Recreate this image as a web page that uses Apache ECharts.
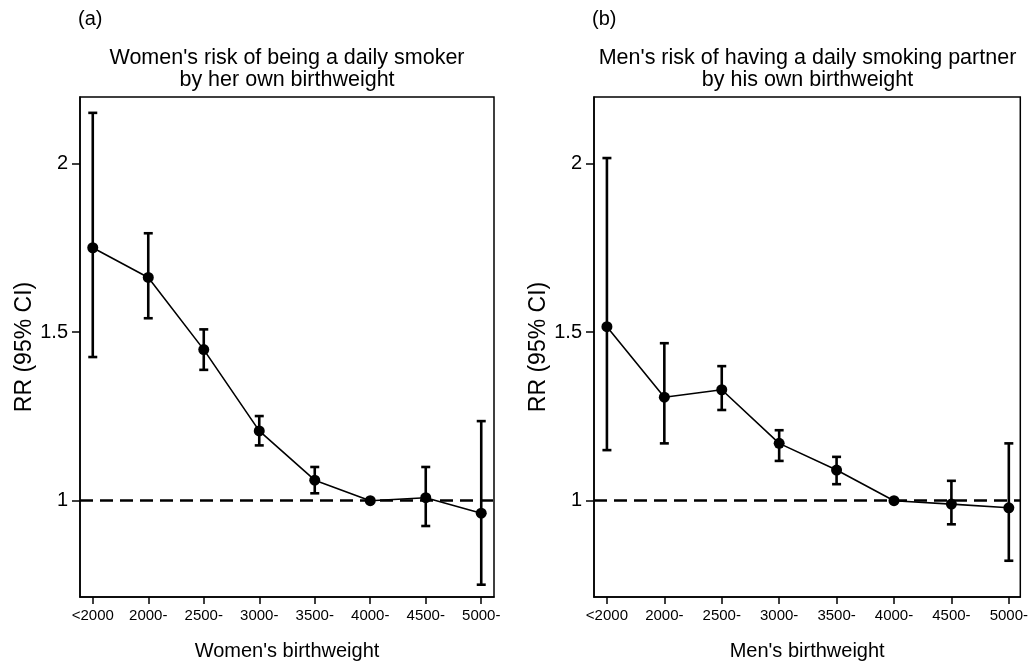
<!DOCTYPE html>
<html>
<head>
<meta charset="utf-8">
<script src="https://cdn.jsdelivr.net/npm/echarts@6/dist/echarts.min.js"></script>
<style>html,body{margin:0;padding:0;background:#fff}#c{width:1031px;height:666px}</style>
</head>
<body>
<div id="c"></div>
<script>
const categories = ['<2000', '2000-', '2500-', '3000-', '3500-', '4000-', '4500-', '5000-'];
const womenRR = [1.750, 1.662, 1.448, 1.207, 1.061, 1.000, 1.009, 0.963];
const womenLo = [1.426, 1.541, 1.388, 1.164, 1.022, null, 0.925, 0.751];
const womenHi = [2.150, 1.793, 1.508, 1.251, 1.100, null, 1.100, 1.236];
const menRR = [1.516, 1.307, 1.329, 1.170, 1.091, 1.000, 0.990, 0.979];
const menLo = [1.150, 1.170, 1.269, 1.118, 1.049, null, 0.930, 0.822];
const menHi = [2.016, 1.467, 1.399, 1.209, 1.130, null, 1.059, 1.170];
const yTicks = [1, 1.5, 2];
const refValue = 1;
const panelLabels = ['(a)', '(b)'];
const panelTitles = ["Women's risk of being a daily smoker\nby her own birthweight",
                     "Men's risk of having a daily smoking partner\nby his own birthweight"];
const xTitles = ["Women's birthweight", "Men's birthweight"];
const yTitle = 'RR (95% CI)';

const FONT = '"Liberation Sans", Arial, sans-serif';
const catIdx = categories.map((c, i) => i);

function pts(rr) { return rr.map((v, i) => [i, v]); }
function bars(lo, hi) {
  const out = [];
  lo.forEach((l, i) => { if (l != null && hi[i] != null) out.push([i, l, hi[i]]); });
  return out;
}

function xAxisCfg(idx, min, max) {
  return {
    type: 'value', gridIndex: idx, min: min, max: max,
    name: xTitles[idx], nameLocation: 'middle', nameGap: 44,
    nameTextStyle: { fontFamily: FONT, fontSize: 20, color: '#000' },
    axisLine: { show: true, onZero: false, lineStyle: { color: '#000', width: 1.5 } },
    axisTick: { show: true, length: 7, customValues: catIdx, lineStyle: { color: '#000', width: 1.5 } },
    axisLabel: { customValues: catIdx, margin: 11, fontFamily: FONT, fontSize: 15, color: '#000',
                 formatter: v => categories[Math.round(v)] },
    splitLine: { show: false }
  };
}
function yAxisCfg(idx) {
  return {
    type: 'value', gridIndex: idx, min: 0.7145, max: 2.197,
    name: yTitle, nameLocation: 'middle', nameGap: 40, nameRotate: 90,
    nameTextStyle: { fontFamily: FONT, fontSize: 23, color: '#000' },
    axisLine: { show: true, onZero: false, lineStyle: { color: '#000', width: 1.5 } },
    axisTick: { show: true, length: 8, customValues: yTicks, lineStyle: { color: '#000', width: 1.5 } },
    axisLabel: { customValues: yTicks, margin: 12, fontFamily: FONT, fontSize: 20, color: '#000',
                 formatter: v => String(v) },
    splitLine: { show: false }
  };
}

function errSeries(idx, data) {
  return {
    type: 'custom', xAxisIndex: idx, yAxisIndex: idx, z: 2, silent: true,
    data: data,
    renderItem: function (params, api) {
      const x = api.value(0);
      const p1 = api.coord([x, api.value(1)]);
      const p2 = api.coord([x, api.value(2)]);
      const w = 4.5;
      const st = { stroke: '#000', lineWidth: 2.6 };
      return {
        type: 'group',
        children: [
          { type: 'line', shape: { x1: p1[0], y1: p1[1], x2: p2[0], y2: p2[1] }, style: st },
          { type: 'line', shape: { x1: p1[0] - w, y1: p1[1], x2: p1[0] + w, y2: p1[1] }, style: st },
          { type: 'line', shape: { x1: p2[0] - w, y1: p2[1], x2: p2[0] + w, y2: p2[1] }, style: st }
        ]
      };
    }
  };
}
function refSeries(idx) {
  return {
    type: 'line', xAxisIndex: idx, yAxisIndex: idx, z: 1, data: [], silent: true,
    markLine: {
      silent: true, symbol: 'none', label: { show: false },
      lineStyle: { color: '#000', width: 2.5, type: [13, 7] },
      data: [{ yAxis: refValue }]
    }
  };
}
function lineSeries(idx, rr) {
  return {
    type: 'line', xAxisIndex: idx, yAxisIndex: idx, z: 3, data: pts(rr),
    symbol: 'circle', symbolSize: 11, showAllSymbol: true,
    itemStyle: { color: '#000' },
    lineStyle: { color: '#000', width: 1.6 },
    animation: false
  };
}

const grids = [
  { left: 80, top: 97, width: 414, height: 500 },
  { left: 594, top: 97, width: 427, height: 500 }
];

const chart = echarts.init(document.getElementById('c'), null, { renderer: 'canvas' });
chart.setOption({
  animation: false,
  backgroundColor: '#fff',
  grid: grids.map(g => Object.assign({ show: true, borderColor: '#000', borderWidth: 1.5, backgroundColor: 'transparent' }, g)),
  xAxis: [xAxisCfg(0, -0.23, 7.23), xAxisCfg(1, -0.225, 7.2)],
  yAxis: [yAxisCfg(0), yAxisCfg(1)],
  graphic: [0, 1].map(i => [
    { type: 'text', x: grids[i].left - 2, y: 9,
      style: { text: panelLabels[i], font: '20px ' + FONT, fill: '#000', textAlign: 'left', textVerticalAlign: 'top' } },
    { type: 'text', x: grids[i].left + grids[i].width / 2, y: 47,
      style: { text: panelTitles[i], font: '21.5px ' + FONT, lineHeight: 22, fill: '#000', textAlign: 'center', textVerticalAlign: 'top' } }
  ]).flat(),
  series: [
    refSeries(0), errSeries(0, bars(womenLo, womenHi)), lineSeries(0, womenRR),
    refSeries(1), errSeries(1, bars(menLo, menHi)), lineSeries(1, menRR)
  ]
});
</script>
</body>
</html>
